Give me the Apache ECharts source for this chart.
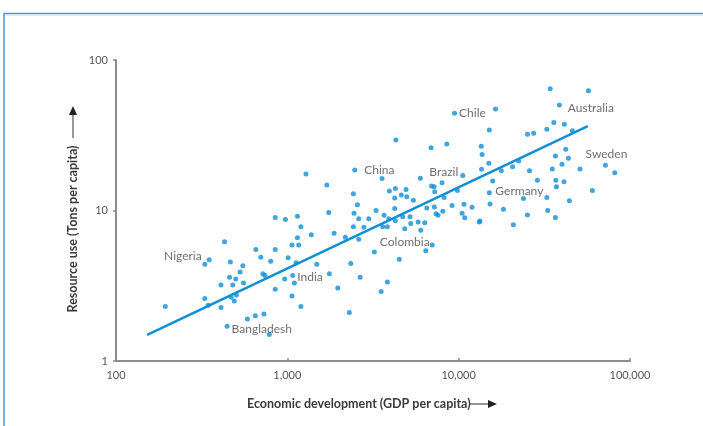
<!DOCTYPE html>
<html>
<head>
<meta charset="utf-8">
<script src="https://cdn.jsdelivr.net/npm/echarts@6/dist/echarts.min.js"></script>
<style>
  html, body { margin: 0; padding: 0; background: #ffffff; }
  #chart { width: 703px; height: 426px; }
</style>
</head>
<body>
<div id="chart"></div>
<script>
// GDP per capita (US$) and resource use (tons per capita) for each country
const gdp = [
  194, 330, 430, 330, 345, 410, 410, 460, 465, 500, 480, 530, 550, 555, 470, 505, 490,
  585, 650, 730, 785, 655, 700, 800, 850, 720, 740, 850, 965, 1100, 1065, 1200, 1125,
  1010, 1065, 1165, 1145, 1200, 1145, 975, 850, 1380, 1485, 1745, 1760, 2345, 3220,
  4500, 6430, 2660, 1970, 3835, 3525, 2300, 4300, 1285, 1700, 3570, 1875, 2430, 2565,
  2450, 2610, 2430, 2180, 2610, 2800, 2990, 3295, 3670, 3605, 3835, 3910, 3940, 4270,
  4630, 4930, 4980, 4235, 5440, 4235, 4715, 5200, 4270, 4845, 5250, 5795, 5975, 16400,
  15100, 25200, 27400, 6900, 8530, 13550, 13700, 15000, 13600, 17750, 20650, 22400,
  15800, 25900, 8000, 6950, 7190, 7250, 8220, 9825, 15100, 23900, 6340, 6010, 6515,
  7215, 7380, 7580, 8080, 9150, 10470, 10850, 10750, 11970, 13200, 15250, 18250, 20850,
  25200, 28800, 34200, 57200, 32700, 35900, 41400, 46100, 42200, 43700, 36700, 40100,
  35200, 51100, 81500, 36900, 37200, 41200, 60300, 44300, 33100, 36700, 13300
];
const resourceUse = [
  2.3, 4.4, 6.2, 2.6, 2.35, 2.27, 3.2, 3.6, 4.55, 3.5, 3.2, 3.9, 4.3, 3.3, 2.65, 2.75, 2.5,
  1.9, 2.0, 2.05, 1.5, 5.5, 4.9, 4.6, 5.5, 3.8, 3.7, 3.0, 3.5, 3.3, 2.7, 2.3, 4.5,
  4.85, 5.9, 5.9, 6.6, 7.8, 9.15, 8.7, 9.0, 6.9, 4.4, 9.7, 3.8, 4.45, 5.3,
  4.75, 5.4, 3.6, 3.05, 3.35, 2.9, 2.1, 29.4, 17.5, 14.8, 16.3, 7.05, 12.9, 10.9,
  9.6, 8.8, 7.8, 6.65, 6.45, 7.75, 8.8, 10.0, 9.3, 7.8, 7.8, 8.8, 13.5, 14.0,
  12.7, 13.8, 12.35, 12.1, 11.7, 10.3, 9.1, 9.1, 8.55, 7.55, 8.2, 8.4, 16.4, 47.2,
  34.3, 32.1, 32.6, 26.1, 27.7, 26.7, 23.6, 20.6, 18.8, 18.4, 19.5, 21.3,
  15.7, 18.4, 15.3, 14.55, 14.4, 13.3, 12.2, 13.6, 13.1, 12.0, 8.3, 7.4, 10.4,
  10.55, 9.5, 9.3, 9.9, 10.8, 9.6, 8.95, 11.0, 10.5, 8.4, 11.05, 10.2, 8.05,
  9.35, 15.9, 64.5, 62.5, 34.6, 38.5, 37.4, 33.9, 25.5, 22.2, 23.0, 20.3,
  18.9, 18.9, 17.8, 15.9, 14.4, 15.5, 13.6, 11.6, 10.0, 9.0, 8.5
];

// Named countries
const countryNames = ['Nigeria', 'Bangladesh', 'India', 'China', 'Colombia', 'Brazil', 'Chile', 'Germany', 'Australia', 'Sweden'];
const countryGdp = [350, 445, 1075, 2475, 7000, 10570, 9465, 32700, 38700, 71900];
const countryUse = [4.7, 1.7, 3.7, 18.6, 5.9, 17.1, 44.2, 12.2, 50.2, 20.0];

// Fitted trend line end points
const trendGdp = [152, 56700];
const trendUse = [1.49, 36.4];

// Axis ticks
const xTicks = [100, 1000, 10000, 100000];
const yTicks = [1, 10, 100];

const BLUE = '#0f8fd6';
const TEXT = '#4a4a4a';
const FONT = 'Lato';

// Where each country name sits relative to its dot
const labelSide = {
  Nigeria:    { position: 'left',  distance: 5, offset: [0, -4] },
  Bangladesh: { position: 'right', distance: 2, offset: [0, 3] },
  India:      { position: 'right', distance: 2, offset: [0, 2] },
  China:      { position: 'right', distance: 7, offset: [0, 0] },
  Colombia:   { position: 'left',  distance: 0, offset: [0, -3] },
  Brazil:     { position: 'left',  distance: 2, offset: [0, -3] },
  Chile:      { position: 'right', distance: 2, offset: [0, 0] },
  Germany:    { position: 'left',  distance: 1, offset: [0, -6] },
  Australia:  { position: 'right', distance: 6, offset: [0, 3] },
  Sweden:     { position: 'top',   distance: 3, offset: [1, 0] }
};

const points = gdp.map((g, i) => [g, resourceUse[i]]);
const countries = countryNames.map((n, i) => ({
  name: n,
  value: [countryGdp[i], countryUse[i]],
  label: Object.assign({ show: true, formatter: n }, labelSide[n])
}));
const trend = trendGdp.map((g, i) => [g, trendUse[i]]);

const fmt = v => Number(v).toLocaleString('en-US');

const chart = echarts.init(document.getElementById('chart'), null, { renderer: 'canvas' });
chart.setOption({
  backgroundColor: '#ffffff',
  animation: false,
  grid: { left: 116, right: 73, top: 60, bottom: 65 },
  xAxis: {
    type: 'log',
    logBase: 10,
    min: xTicks[0],
    max: xTicks[xTicks.length - 1],
    splitLine: { show: false },
    axisLine: { lineStyle: { color: '#8c8c8c', width: 2 } },
    axisTick: { inside: true, length: 3, lineStyle: { color: '#8c8c8c', width: 1.5 } },
    axisLabel: { color: '#555', fontFamily: FONT, fontSize: 11, margin: 9, formatter: fmt }
  },
  yAxis: {
    type: 'log',
    logBase: 10,
    min: yTicks[0],
    max: yTicks[yTicks.length - 1],
    splitLine: { show: false },
    axisLine: { show: true, lineStyle: { color: '#8c8c8c', width: 2 } },
    axisTick: { show: true, length: 3, lineStyle: { color: '#8c8c8c', width: 1.5 } },
    axisLabel: { color: '#555', fontFamily: FONT, fontSize: 11, margin: 8, formatter: fmt }
  },
  series: [
    {
      type: 'line',
      data: trend,
      symbol: 'none',
      lineStyle: { color: BLUE, width: 2.5 },
      z: 2
    },
    {
      type: 'scatter',
      data: points,
      symbolSize: 5,
      itemStyle: { color: BLUE },
      z: 3
    },
    {
      type: 'scatter',
      data: countries,
      symbolSize: 5,
      itemStyle: { color: BLUE },
      label: { color: TEXT, fontFamily: FONT, fontSize: 12 },
      z: 4
    }
  ],
  graphic: [
    // page frame
    { type: 'line', shape: { x1: 4, y1: 13.5, x2: 703, y2: 13.5 }, style: { stroke: '#3d9bdc', lineWidth: 1.5 } },
    { type: 'line', shape: { x1: 4, y1: 15, x2: 703, y2: 15 }, style: { stroke: '#bfe0f5', lineWidth: 1 } },
    { type: 'line', shape: { x1: 4, y1: 13, x2: 4, y2: 426 }, style: { stroke: '#3d9bdc', lineWidth: 1.5 } },
    // y axis title with arrow
    {
      type: 'text', x: 73, y: 229, rotation: Math.PI / 2,
      style: { text: 'Resource use (Tons per capita)', fill: '#3a3a3a', font: 'bold 12.5px Lato', textAlign: 'center', textVerticalAlign: 'middle' }
    },
    { type: 'line', shape: { x1: 73, y1: 138, x2: 73, y2: 113 }, style: { stroke: '#333', lineWidth: 1 } },
    { type: 'polygon', shape: { points: [[73, 106], [69, 115], [77, 115]] }, style: { fill: '#222' } },
    // x axis title with arrow
    {
      type: 'text', x: 247, y: 404,
      style: { text: 'Economic development (GDP per capita)', fill: '#3a3a3a', font: 'bold 12.5px Lato', textAlign: 'left', textVerticalAlign: 'middle' }
    },
    { type: 'line', shape: { x1: 469, y1: 404, x2: 490, y2: 404 }, style: { stroke: '#333', lineWidth: 1 } },
    { type: 'polygon', shape: { points: [[497, 404], [488, 400], [488, 408]] }, style: { fill: '#222' } }
  ]
});
</script>
</body>
</html>
